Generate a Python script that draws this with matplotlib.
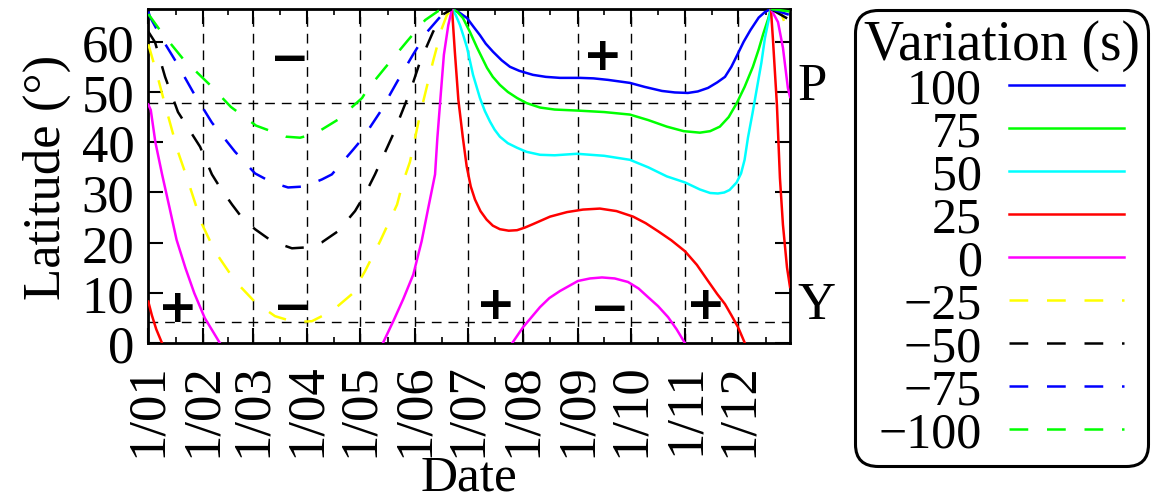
import numpy as np
import matplotlib
matplotlib.use('Agg')
import matplotlib.pyplot as plt

plt.rcParams['font.family'] = ['Liberation Serif', 'DejaVu Serif']
plt.rcParams['lines.scale_dashes'] = False

nan = np.nan

# day of year (0 = 1 Jan) and latitude for each contour level, pieces split by nan
levels = ['100', '75', '50', '25', '0', '\u221225', '\u221250', '\u221275', '\u2212100']
colors = ['#0000ff', '#00ff00', '#00ffff', '#ff0000', '#ff00ff',
          '#ffff00', '#000000', '#0000ff', '#00ff00']
dashed = [False, False, False, False, False, True, True, True, True]

c_p100 = [(171.9, 66.5), (176.0, 65.8), (180.4, 64.7), (184.0, 63.0), (187.7, 61.3),
          (191.0, 59.6), (195.1, 58.0), (200.0, 56.3), (204.7, 55.0), (210.0, 54.2),
          (217.7, 53.4), (225.0, 53.0), (233.0, 52.8), (244.3, 52.8), (252.0, 52.7),
          (260.2, 52.4), (272.6, 51.8), (281.0, 51.0), (290.7, 50.2), (298.0, 49.9),
          (305.4, 49.8), (311.0, 50.1), (316.8, 50.8), (322.0, 51.9), (326.4, 53.0),
          (330.0, 55.0), (333.4, 57.4), (337.0, 60.0), (340.8, 62.3), (345.5, 64.8),
          (349.0, 65.9), (352.4, 66.5)]
c_p75 = [(171.9, 66.5), (175.0, 65.9), (178.1, 64.7), (182.1, 61.9), (186.1, 58.8),
         (191.7, 54.8), (195.0, 53.0), (199.0, 51.4), (203.5, 50.0), (208.7, 48.8),
         (214.0, 47.8), (221.7, 46.9), (230.0, 46.5), (242.6, 46.3), (258.0, 46.0),
         (272.6, 45.5), (283.0, 44.4), (293.5, 43.1), (303.0, 42.2), (312.2, 41.9),
         (318.0, 42.2), (323.5, 43.1), (328.5, 45.0), (333.1, 47.8), (337.5, 51.0),
         (342.2, 55.0), (345.5, 58.5), (348.0, 61.5), (350.8, 64.5), (352.4, 66.5)]
c_p50 = [(171.9, 66.5), (174.0, 65.3), (176.4, 63.3), (178.5, 61.0), (180.4, 58.8),
         (183.8, 53.4), (187.7, 48.8), (190.5, 46.2), (193.4, 44.1), (196.0, 42.5),
         (199.0, 41.1), (203.5, 39.8), (208.7, 38.9), (214.0, 38.1), (221.7, 37.5),
         (230.0, 37.4), (242.6, 37.7), (258.0, 37.3), (272.6, 36.5), (283.0, 35.0),
         (293.5, 33.2), (303.8, 32.0), (312.2, 30.6), (318.0, 29.9), (322.4, 29.8),
         (326.0, 30.0), (329.0, 30.5), (333.0, 32.0), (335.5, 33.8), (337.5, 36.5),
         (339.4, 40.9), (342.0, 45.8), (344.5, 50.8), (347.0, 55.8), (349.0, 60.7),
         (350.8, 63.8), (352.4, 66.5)]
c_p25 = [(0.0, 8.3), (2.0, 5.6), (4.5, 2.8), (7.8, 0.0), (nan, nan),
         (171.9, 66.5), (173.5, 58.0), (175.5, 48.4), (178.0, 41.0), (180.2, 35.2),
         (182.5, 31.2), (184.9, 28.6), (188.0, 26.3), (191.5, 24.6), (195.0, 23.4),
         (199.0, 22.7), (204.0, 22.4), (208.7, 22.5), (213.0, 23.0), (217.7, 23.7),
         (227.4, 25.2), (237.0, 26.1), (246.0, 26.6), (255.6, 26.8), (265.0, 26.3),
         (274.4, 25.2), (281.5, 23.9), (288.5, 22.3), (296.0, 20.5), (303.8, 18.3),
         (310.5, 15.6), (316.8, 12.4), (322.0, 9.8), (326.4, 7.8), (330.0, 5.6),
         (333.8, 3.2), (337.7, 0.0), (nan, nan),
         (352.4, 66.5), (353.5, 60.7), (355.8, 47.4), (357.5, 32.9), (359.2, 23.6),
         (361.5, 15.1), (363.2, 11.2)]
c_0 = [(0.0, 47.5), (1.4, 46.4), (4.0, 40.0), (7.8, 33.6), (12.0, 27.0),
       (16.0, 20.6), (21.0, 15.0), (26.0, 10.0), (32.0, 5.0), (40.6, 0.0), (nan, nan),
       (133.0, 0.2), (138.8, 4.5), (144.3, 8.8), (150.0, 13.7), (154.7, 20.3),
       (158.5, 27.0), (162.3, 33.6), (163.6, 40.8), (165.5, 49.4), (167.3, 57.4),
       (169.8, 63.3), (171.9, 66.5), (nan, nan),
       (205.9, 0.0), (212.1, 3.2), (221.7, 7.2), (227.0, 9.0), (233.0, 10.4),
       (243.2, 12.4), (250.0, 12.9), (256.8, 13.1), (264.0, 12.9), (271.5, 12.2),
       (277.5, 10.9), (282.8, 9.2), (288.5, 7.4), (294.2, 5.2), (299.0, 2.8),
       (303.8, 0.0), (nan, nan),
       (352.4, 66.5), (356.4, 63.9), (359.2, 58.8), (362.0, 50.8), (363.2, 49.0)]
c_m25 = [(0.0, 59.5), (5.0, 53.4), (9.5, 47.4), (16.8, 38.1), (21.9, 32.9),
         (30.4, 23.7), (37.7, 18.3), (49.1, 12.4), (60.4, 8.2), (71.7, 5.4),
         (83.0, 4.2), (92.6, 4.4), (103.9, 6.4), (115.3, 9.8), (122.6, 14.3),
         (131.2, 20.3), (140.8, 27.6), (144.1, 32.0), (148.1, 36.1), (153.8, 45.5),
         (161.1, 56.0), (166.2, 62.7), (169.0, 65.3), (171.9, 66.5), (nan, nan),
         (352.4, 66.5), (358.6, 65.3), (363.2, 60.7)]
c_m50 = [(0.0, 62.0), (3.8, 59.9), (9.5, 53.0), (16.8, 46.0), (29.3, 39.1),
         (36.0, 33.6), (40.6, 31.0), (47.4, 27.6), (53.0, 25.0), (60.4, 22.7),
         (70.0, 20.3), (81.3, 18.9), (90.4, 19.1), (98.3, 20.1), (107.4, 22.3),
         (117.0, 26.3), (122.6, 29.6), (128.3, 33.6), (138.5, 41.5), (148.1, 50.0),
         (153.8, 56.0), (161.1, 61.9), (166.2, 65.3), (171.9, 66.5), (nan, nan),
         (352.4, 66.5), (363.2, 64.3)]
c_m75 = [(0.0, 66.0), (1.0, 64.9), (7.2, 60.9), (15.7, 56.0), (25.3, 50.0),
         (36.0, 43.9), (49.1, 38.1), (60.4, 33.8), (70.0, 32.0), (79.1, 31.0),
         (88.7, 31.2), (98.3, 32.6), (103.9, 33.6), (115.9, 38.5), (121.6, 40.9),
         (131.2, 46.0), (140.8, 52.0), (149.8, 57.4), (157.7, 61.9), (165.1, 64.9),
         (171.9, 66.5), (nan, nan),
         (352.4, 66.5), (363.2, 65.3)]
c_m100 = [(0.0, 65.5), (7.8, 61.7), (19.6, 56.6), (34.9, 51.4), (46.8, 47.0),
          (61.0, 43.3), (77.9, 41.1), (85.9, 40.9), (94.4, 41.7), (107.4, 44.5),
          (121.0, 48.8), (123.8, 50.4), (134.0, 54.8), (147.0, 60.3), (156.7, 64.3),
          (164.1, 66.1), (171.9, 66.5), (nan, nan),
          (352.4, 66.5), (363.2, 66.0)]
curves = [c_p100, c_p75, c_p50, c_p25, c_0, c_m25, c_m50, c_m75, c_m100]

month_start = [0, 31, 59, 90, 120, 151, 181, 212, 243, 273, 304, 334]
month_labels = ['1/01', '1/02', '1/03', '1/04', '1/05', '1/06',
                '1/07', '1/08', '1/09', '1/10', '1/11', '1/12']

city_lat = [47.8, 4.2]
city_name = ['P', 'Y']

sign_day = [16.8, 80.2, 82.0, 196.8, 257.0, 261.0, 315.6]
sign_lat = [7.0, 56.4, 7.0, 7.6, 57.0, 6.8, 7.6]
sign_txt = ['+', '\u2212', '\u2212', '+', '+', '\u2212', '+']

fs = 38

fig = plt.figure(figsize=(11.59, 5.02), dpi=100)
ax = fig.add_axes([148.3 / 1159, 1 - 344.3 / 502, (790 - 148.3) / 1159, (344.3 - 10) / 502])

for x in month_start[1:]:
    ax.axvline(x, color='black', lw=1.0, linestyle=(0, (7, 5)), zorder=1)
for lat in city_lat:
    ax.axhline(lat, color='black', lw=1.0, linestyle=(0, (7, 5)), zorder=1)

handles = []
for pts, lab, col, dsh in zip(curves, levels, colors, dashed):
    xs = [p[0] for p in pts]
    ys = [p[1] for p in pts]
    ls = (0, (13.5, 13.5)) if dsh else '-'
    h, = ax.plot(xs, ys, color=col, lw=1.8, linestyle=ls, label=lab, zorder=3,
                 solid_joinstyle='round')
    handles.append(h)

for d, l, t in zip(sign_day, sign_lat, sign_txt):
    ax.text(d, l, t, fontsize=34, fontweight='bold', family='DejaVu Sans',
            ha='center', va='center', zorder=4)

for lat, name in zip(city_lat, city_name):
    ax.text(1.012, lat + 0.8, name, transform=ax.get_yaxis_transform(),
            fontsize=fs, ha='left', va='baseline')

ax.set_xlim(0, 363.2)
ax.set_ylim(0, 66.5)
ax.set_xticks(month_start)
ax.set_xticklabels(month_labels, rotation=90)
ax.set_xticks([(a + b) / 2 for a, b in zip(month_start, month_start[1:] + [365])], minor=True)
ax.set_yticks(range(0, 61, 10))
ax.tick_params(which='major', direction='in', length=10.5, width=1.5, top=True, right=True,
               labelsize=fs, pad=10)
ax.tick_params(which='minor', direction='in', length=4, width=1.2, top=True, right=True)
ax.tick_params(axis='x', pad=13.5)
for s in ax.spines.values():
    s.set_linewidth(2.0)

ax.set_xlabel('Date', fontsize=37, labelpad=-1)
ax.set_ylabel('Latitude (\u00b0)', fontsize=fs, labelpad=8)

leg = ax.legend(handles=handles, loc='upper left', bbox_to_anchor=(855 / 1159, 1 - 11 / 502),
                bbox_transform=fig.transFigure, borderaxespad=0, fontsize=36,
                title='Variation (s)', title_fontsize=40, markerfirst=False,
                handlelength=2.3, handletextpad=0.55, labelspacing=-0.07,
                borderpad=0.17, fancybox=True, framealpha=1, edgecolor='black')
leg.get_frame().set_linewidth(2.2)
leg.get_frame().set_boxstyle('round,pad=0,rounding_size=0.45')

fig.savefig('out.png', dpi=100)
